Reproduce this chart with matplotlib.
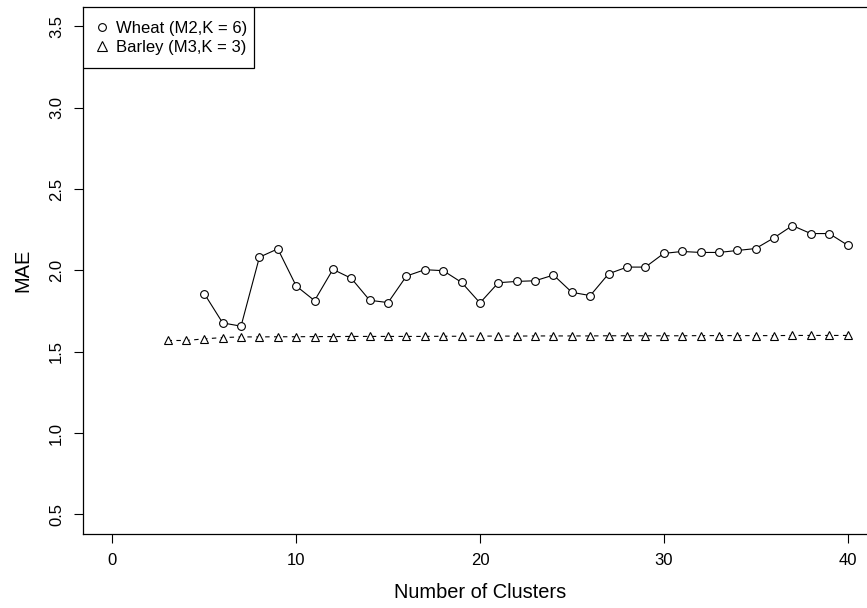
import matplotlib
matplotlib.use("Agg")
import matplotlib.pyplot as plt
from matplotlib.lines import Line2D
from matplotlib.patches import Rectangle

plt.rcParams.update({
    "font.family": ["Liberation Sans", "DejaVu Sans"],
    "font.size": 12,
    "axes.linewidth": 0.9,
})

# ── Data ──────────────────────────────────────────────────────────────────
wheat_k = list(range(5, 41))
wheat_mae = [1.857, 1.677, 1.657, 2.081, 2.132, 1.904, 1.814, 2.006, 1.951,
             1.816, 1.802, 1.965, 2.004, 1.998, 1.926, 1.800, 1.924, 1.932,
             1.936, 1.971, 1.865, 1.845, 1.979, 2.020, 2.020, 2.104, 2.116,
             2.110, 2.110, 2.122, 2.134, 2.200, 2.275, 2.226, 2.226, 2.155]

barley_k = list(range(3, 41))
barley_mae = [1.569, 1.569, 1.579, 1.587, 1.591, 1.591, 1.592, 1.592, 1.593,
              1.593, 1.594, 1.594, 1.594, 1.594, 1.594, 1.595, 1.595, 1.596,
              1.596, 1.596, 1.597, 1.597, 1.597, 1.597, 1.598, 1.598, 1.598,
              1.598, 1.598, 1.599, 1.599, 1.599, 1.599, 1.599, 1.600, 1.600,
              1.600, 1.600]

series_labels = ["Wheat (M2,K = 6)", "Barley (M3,K = 3)"]
x_ticks = [0, 10, 20, 30, 40]
y_ticks = [0.5, 1.0, 1.5, 2.0, 2.5, 3.0, 3.5]


def main():
    fig = plt.figure(figsize=(8.67, 6.08), dpi=100)
    # axes box runs past the right edge, as in the reference crop
    ax = fig.add_axes([0.0957, 0.1217, 0.9158, 0.8673])

    ax.plot(wheat_k, wheat_mae, color="black", linewidth=0.8,
            marker="o", markersize=5.6, markerfacecolor="white",
            markeredgecolor="black", markeredgewidth=0.8)
    ax.plot(barley_k, barley_mae, color="black", linewidth=0.8,
            linestyle=(0, (4, 4)),
            marker="^", markersize=6.2, markerfacecolor="white",
            markeredgecolor="black", markeredgewidth=0.8)

    ax.set_xlim(-1.6, 41.6)
    ax.set_ylim(0.38, 3.62)
    ax.set_xticks(x_ticks)
    ax.set_yticks(y_ticks)
    ax.set_yticklabels([f"{v:.1f}" for v in y_ticks], rotation=90,
                       va="center")
    ax.tick_params(direction="out", length=6.5, width=0.8, labelsize=12)
    ax.tick_params(axis="x", pad=7)
    ax.tick_params(axis="y", pad=7)

    ax.set_xlabel("Number of Clusters", fontsize=14.4, labelpad=11)
    ax.set_ylabel("MAE", fontsize=14.4, labelpad=12)

    # legend box in the top-left corner (drawn separately so its padding
    # matches the R-style legend)
    ax.add_patch(Rectangle((0, 0.8837), 0.2154, 0.1163,
                           transform=ax.transAxes, facecolor="white",
                           edgecolor="black", linewidth=0.9, zorder=4))
    handles = [
        Line2D([], [], linestyle="none", marker="o", markersize=5.6,
               markerfacecolor="white", markeredgecolor="black",
               markeredgewidth=0.8),
        Line2D([], [], linestyle="none", marker="^", markersize=6.6,
               markerfacecolor="white", markeredgecolor="black",
               markeredgewidth=0.8),
    ]
    leg = ax.legend(handles, series_labels, loc="center left",
                    bbox_to_anchor=(0.0135, 0.9406), borderaxespad=0,
                    borderpad=0, fontsize=12, frameon=False,
                    handlelength=1.0, handletextpad=0.34,
                    labelspacing=0.25)
    leg.set_zorder(5)

    fig.savefig("out.png", dpi=100)


if __name__ == "__main__":
    main()
